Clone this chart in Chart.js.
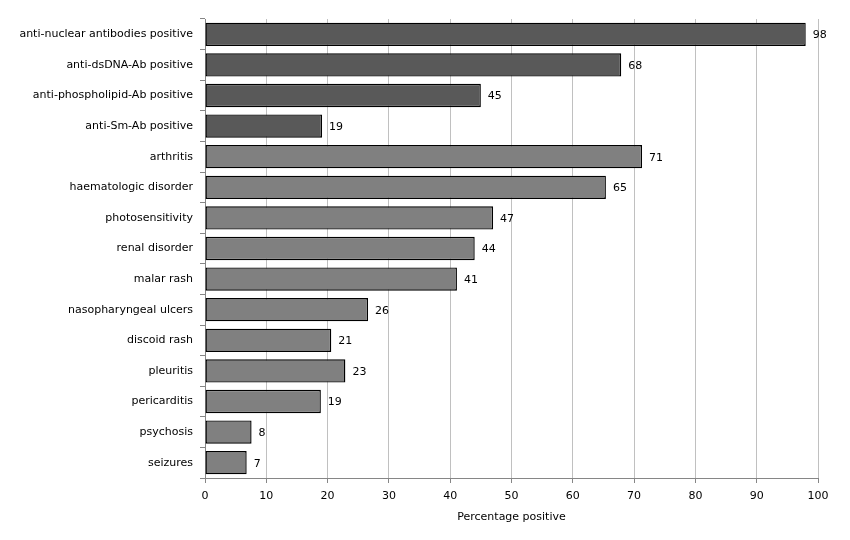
<!DOCTYPE html>
<html>
<head>
<meta charset="utf-8">
<script src="https://cdn.jsdelivr.net/npm/chart.js@4/dist/chart.umd.min.js"></script>
<style>
html,body{margin:0;padding:0;background:#fff;}
#wrap{width:850px;height:540px;}
</style>
</head>
<body>
<div id="wrap"><canvas id="c" width="850" height="540"></canvas></div>
<script>
const categories = [
  "anti-nuclear antibodies positive",
  "anti-dsDNA-Ab positive",
  "anti-phospholipid-Ab positive",
  "anti-Sm-Ab positive",
  "arthritis",
  "haematologic disorder",
  "photosensitivity",
  "renal disorder",
  "malar rash",
  "nasopharyngeal ulcers",
  "discoid rash",
  "pleuritis",
  "pericarditis",
  "psychosis",
  "seizures"
];
const values = [98, 67.9, 45, 19.1, 71.3, 65.4, 47, 44, 41.1, 26.6, 20.6, 22.9, 18.9, 7.6, 6.8];
const valueLabels = ["98","68","45","19","71","65","47","44","41","26","21","23","19","8","7"];
const groups = ["serology","serology","serology","serology","clinical","clinical","clinical","clinical","clinical","clinical","clinical","clinical","clinical","clinical","clinical"];
const groupColors = {serology: "#595959", clinical: "#808080"};
const xTicks = [0,10,20,30,40,50,60,70,80,90,100];
const xTitle = "Percentage positive";

const FONT = "Tahoma, 'DejaVu Sans', sans-serif";

const labelPlugin = {
  id: 'barLabels',
  afterDatasetsDraw(chart) {
    const ctx = chart.ctx;
    const meta = chart.getDatasetMeta(0);
    ctx.save();
    ctx.font = "11px " + FONT;
    ctx.fillStyle = "#000";
    ctx.textAlign = "left";
    ctx.textBaseline = "middle";
    meta.data.forEach((bar, i) => {
      ctx.fillText(valueLabels[i], bar.x + 7, bar.y + 1);
    });
    ctx.restore();
  }
};

new Chart(document.getElementById('c'), {
  type: 'bar',
  data: {
    labels: categories,
    datasets: [{
      data: values,
      backgroundColor: groups.map(g => groupColors[g]),
      borderColor: "#000",
      borderWidth: 1.4,
      borderSkipped: false,
      barPercentage: 0.76,
      categoryPercentage: 1.0
    }]
  },
  options: {
    indexAxis: 'y',
    responsive: false,
    animation: false,
    devicePixelRatio: 1,
    layout: { padding: { left: 0, right: 32, top: 19, bottom: 0 } },
    plugins: { legend: { display: false }, tooltip: { enabled: false } },
    scales: {
      x: {
        min: 0, max: 100,
        afterBuildTicks: (s) => { s.ticks = xTicks.map(v => ({value: v})); },
        afterFit: (s) => { s.height = 62; },
        grid: { color: "#c0c0c0", tickColor: "#868686", tickLength: 5, lineWidth: 1 },
        border: { color: "#868686" },
        ticks: { color: "#000", font: { family: FONT, size: 11 }, padding: 7, maxRotation: 0 },
        title: { display: true, text: xTitle, color: "#000", font: { family: FONT, size: 11 }, padding: { top: 4, bottom: 16 } }
      },
      y: {
        offset: true,
        afterFit: (s) => { s.width = 205; },
        grid: { display: true, drawOnChartArea: false, offset: true, tickLength: 5, tickColor: "#868686" },
        border: { color: "#868686" },
        ticks: { color: "#000", font: { family: FONT, size: 11 }, padding: 7, autoSkip: false }
      }
    }
  },
  plugins: [labelPlugin]
});
</script>
</body>
</html>
